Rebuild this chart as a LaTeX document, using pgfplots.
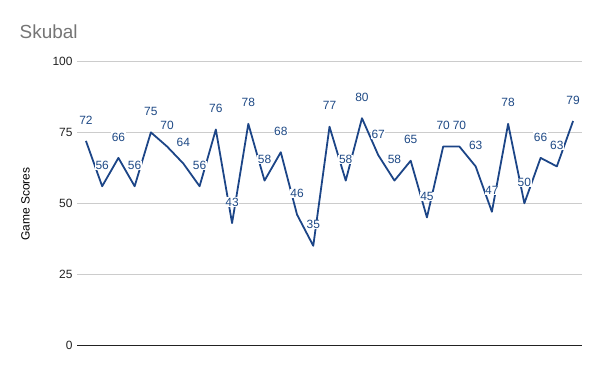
\documentclass[border=0pt]{standalone}
\usepackage{pgfplots}
\pgfplotsset{compat=1.18}
\usepackage{fontspec}
\setmainfont{Liberation Sans}
\definecolor{lineblue}{HTML}{1C4587}
\definecolor{labelblue}{HTML}{1F4A86}
\definecolor{gridgray}{HTML}{CCCCCC}
\definecolor{titlegray}{HTML}{757575}
\definecolor{tickgray}{HTML}{222222}
\begin{document}
\begin{tikzpicture}[x=1bp,y=1bp]
\path[use as bounding box] (-77,-26) rectangle (523,345);
\begin{axis}[
  at={(0,0)}, anchor=south west,
  scale only axis,
  width=505bp, height=283.5bp,
  xmin=-0.55, xmax=30.55,
  ymin=0, ymax=100,
  ytick={0,25,50,75,100},
  xtick=\empty,
  axis line style={draw=none},
  ymajorgrids,
  grid style={gridgray, line width=0.8pt},
  major tick length=0pt,
  tick label style={font=\fontsize{12}{14}\selectfont, text=tickgray},
  yticklabel style={xshift=-1bp},
  /pgf/number format/assume math mode=true,
  clip=false,
]
\draw[tickgray, line width=1pt] (rel axis cs:0,0) -- (rel axis cs:1,0);
\addplot[lineblue, line width=1.8pt, line join=round, mark=none,
  nodes near coords,
  every node near coord/.append style={font=\fontsize{12}{14}\selectfont, text=labelblue, anchor=center, yshift=21bp, fill=white, inner xsep=0.6pt, inner ysep=0.4pt}]
  coordinates {
  (0,72) (1,56) (2,66) (3,56) (4,75) (5,70) (6,64) (7,56) (8,76) (9,43)
  (10,78) (11,58) (12,68) (13,46) (14,35) (15,77) (16,58) (17,80) (18,67) (19,58)
  (20,65) (21,45) (22,70) (23,70) (24,63) (25,47) (26,78) (27,50) (28,66) (29,63)
  (30,79)
  };
\end{axis}
\node[anchor=base west, font=\fontsize{19}{22}\selectfont, text=titlegray, inner sep=0pt] at (-57.5,306.7) {Skubal};
\node[rotate=90, font=\fontsize{12}{14}\selectfont, text=black, inner sep=0pt] at (-51.5,141) {Game Scores};
\end{tikzpicture}
\end{document}
